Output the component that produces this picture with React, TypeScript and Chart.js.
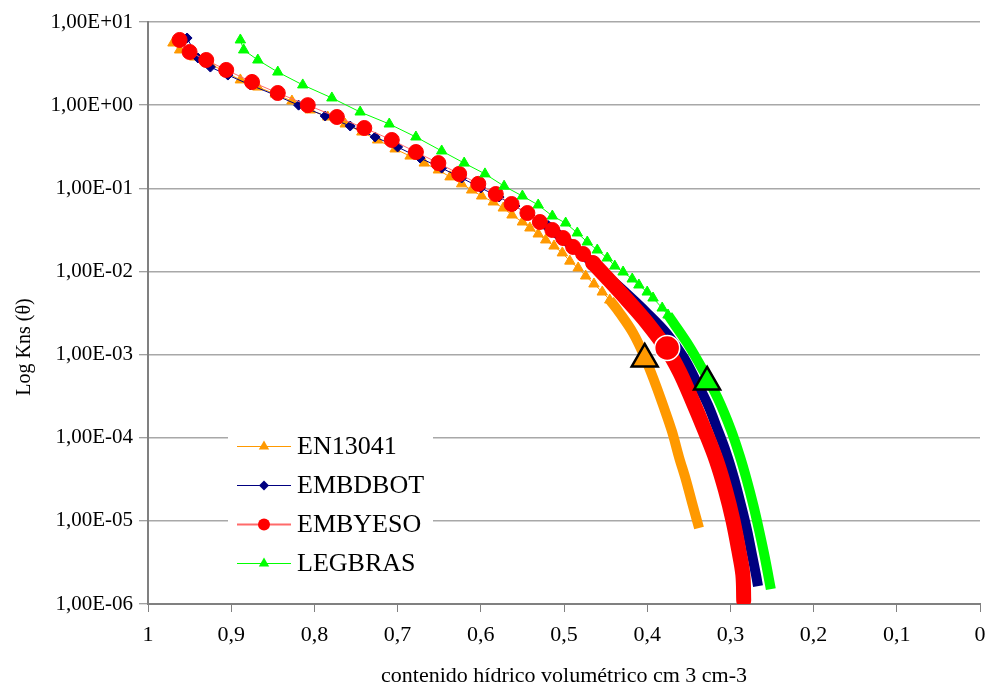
import React, { useEffect, useRef } from 'react';
import { Chart, registerables } from 'chart.js';

Chart.register(...registerables);

// ---- labels ----
const seriesNames = ['EN13041', 'EMBDBOT', 'EMBYESO', 'LEGBRAS'];
const xTitle = 'contenido hídrico volumétrico cm 3 cm-3';
const yTitle = 'Log Kns (θ)';
const xTickLabels = ['0', '0,1', '0,2', '0,3', '0,4', '0,5', '0,6', '0,7', '0,8', '0,9', '1'];
const yTickValues = [1e-6, 1e-5, 1e-4, 1e-3, 1e-2, 1e-1, 1, 10];
const yTickLabels = ['1,00E-06', '1,00E-05', '1,00E-04', '1,00E-03', '1,00E-02', '1,00E-01', '1,00E+00', '1,00E+01'];

// ---- EN13041 ----
const enTheta = [0.970, 0.962, 0.944, 0.925, 0.907, 0.889, 0.868, 0.847, 0.827, 0.805, 0.784, 0.763, 0.743, 0.724, 0.703, 0.685, 0.668, 0.651, 0.637, 0.623, 0.611, 0.599, 0.585, 0.573, 0.5625, 0.550, 0.541, 0.531, 0.522, 0.512, 0.502, 0.493, 0.483, 0.474, 0.464, 0.454, 0.445];
const enK = [5.59, 4.61, 3.79, 3.13, 2.50, 2.01, 1.65, 1.36, 1.12, 0.875, 0.720, 0.593, 0.475, 0.381, 0.297, 0.244, 0.201, 0.166, 0.137, 0.113, 0.0953, 0.0807, 0.0684, 0.0579, 0.0477, 0.0393, 0.0333, 0.0282, 0.0239, 0.0202, 0.0167, 0.0133, 0.0110, 0.00881, 0.00706, 0.00565, 0.00453];
const enDenseTheta = [0.445, 0.433, 0.417, 0.403, 0.3906, 0.3798, 0.370, 0.3618, 0.3534, 0.346, 0.3377];
const enDenseK = [0.00453, 0.00316, 0.00182, 0.000935, 0.000455, 0.000228, 0.000117, 5.86e-5, 3.10e-5, 1.64e-5, 8.2e-6];

// ---- EMBDBOT ----
const ebTheta = [0.953, 0.940, 0.925, 0.904, 0.877, 0.847, 0.819, 0.787, 0.757, 0.727, 0.700, 0.673, 0.647, 0.623, 0.600, 0.578, 0.559, 0.541, 0.523];
const ebK = [6.42, 3.69, 2.87, 2.30, 1.75, 1.32, 1.00, 0.740, 0.561, 0.414, 0.314, 0.231, 0.175, 0.133, 0.101, 0.0785, 0.0612, 0.0477, 0.0372];
const ebDenseTheta = [0.523, 0.4988, 0.4724, 0.4483, 0.4255, 0.4014, 0.3762, 0.3558, 0.3413, 0.3269, 0.3161, 0.3053, 0.2957, 0.2873, 0.2800, 0.2740, 0.2692, 0.2668];
const ebDenseK = [0.0372, 0.0239, 0.0145, 0.00881, 0.00550, 0.00325, 0.00177, 0.000910, 0.000481, 0.000247, 0.000131, 6.73e-5, 3.27e-5, 1.55e-5, 7.76e-6, 3.89e-6, 2.23e-6, 1.64e-6];

// ---- EMBYESO ----
const eyTheta = [0.962, 0.950, 0.930, 0.906, 0.875, 0.844, 0.808, 0.773, 0.740, 0.707, 0.678, 0.651, 0.626, 0.603, 0.582, 0.563, 0.544, 0.529, 0.514, 0.501, 0.489, 0.477, 0.465];
const eyK = [6.08, 4.36, 3.49, 2.65, 1.90, 1.40, 1.00, 0.720, 0.531, 0.381, 0.273, 0.201, 0.149, 0.113, 0.0853, 0.0647, 0.0504, 0.0393, 0.0315, 0.0252, 0.0197, 0.0162, 0.0126];
const eyDenseTheta = [0.465, 0.4459, 0.424, 0.400, 0.376, 0.361, 0.346, 0.331, 0.317, 0.306, 0.297, 0.290, 0.285, 0.284];
const eyDenseK = [0.0126, 0.00788, 0.00453, 0.00240, 0.00114, 0.000617, 0.000284, 0.000124, 5.40e-5, 2.35e-5, 1.02e-5, 4.46e-6, 2.23e-6, 1.1e-6];

// ---- LEGBRAS ----
const lgTheta = [0.889, 0.885, 0.868, 0.844, 0.814, 0.779, 0.745, 0.710, 0.678, 0.647, 0.620, 0.595, 0.572, 0.550, 0.531, 0.514, 0.498, 0.484, 0.472, 0.460, 0.448, 0.439, 0.429, 0.418, 0.410, 0.400, 0.393, 0.382, 0.375];
const lgK = [6.08, 4.61, 3.49, 2.50, 1.75, 1.22, 0.827, 0.593, 0.414, 0.281, 0.201, 0.149, 0.106, 0.0807, 0.0630, 0.0464, 0.0382, 0.0290, 0.0226, 0.0181, 0.0145, 0.0116, 0.00984, 0.00811, 0.00687, 0.00565, 0.00479, 0.00363, 0.00299];
const lgDenseTheta = [0.375, 0.352, 0.333, 0.3154, 0.2993, 0.2891, 0.2803, 0.2725, 0.2656, 0.2587, 0.2514];
const lgDenseK = [0.00299, 0.00138, 0.000652, 0.000301, 0.000124, 6.19e-5, 3.10e-5, 1.55e-5, 7.76e-6, 3.67e-6, 1.51e-6];

// ---- highlighted points (EN13041, EMBYESO, LEGBRAS) ----
const hlTheta = [0.403, 0.376, 0.328];
const hlK = [0.000885, 0.00120, 0.000468];

const pts = (xs: number[], ys: number[]) => xs.map((x, i) => ({ x, y: ys[i] }));

const ORANGE = '#FF9900';
const NAVY = '#000080';
const RED = '#FF0000';
const RED_LINE = '#FF6A6A';
const GREEN = '#00FF00';
const FONT = "'Liberation Serif', 'Times New Roman', serif";

function drawMarker(ctx: CanvasRenderingContext2D, style: string, x: number, y: number, r: number, fill: string) {
  ctx.beginPath();
  if (style === 'circle') {
    ctx.arc(x, y, r, 0, Math.PI * 2);
  } else if (style === 'triangle') {
    ctx.moveTo(x, y - r);
    ctx.lineTo(x + r * Math.sin((2 * Math.PI) / 3), y + r / 2);
    ctx.lineTo(x - r * Math.sin((2 * Math.PI) / 3), y + r / 2);
    ctx.closePath();
  } else {
    ctx.moveTo(x, y - r);
    ctx.lineTo(x + r, y);
    ctx.lineTo(x, y + r);
    ctx.lineTo(x - r, y);
    ctx.closePath();
  }
  ctx.fillStyle = fill;
  ctx.fill();
}

const legendPlugin = {
  id: 'customLegend',
  afterDatasetsDraw(chart: any) {
    const ctx: CanvasRenderingContext2D = chart.ctx;
    const ca = chart.chartArea;
    const boxX = ca.left + 80;
    const boxY = ca.top + 403;
    ctx.save();
    ctx.fillStyle = '#ffffff';
    ctx.fillRect(boxX, boxY, 205, 160);
    const lineCols = [ORANGE, NAVY, RED_LINE, GREEN];
    const fills = [ORANGE, NAVY, RED, GREEN];
    const styles = ['triangle', 'rectRot', 'circle', 'triangle'];
    const radii = [6, 5, 6, 6];
    seriesNames.forEach((name, i) => {
      const y = ca.top + 424 + i * 39;
      const x0 = ca.left + 89;
      const x1 = ca.left + 143;
      ctx.strokeStyle = lineCols[i];
      ctx.lineWidth = i === 2 ? 2 : 1;
      ctx.beginPath();
      ctx.moveTo(x0, y + 0.5);
      ctx.lineTo(x1, y + 0.5);
      ctx.stroke();
      drawMarker(ctx, styles[i], (x0 + x1) / 2, y + 0.5, radii[i], fills[i]);
      ctx.fillStyle = '#000';
      ctx.font = `26px ${FONT}`;
      ctx.textBaseline = 'middle';
      ctx.textAlign = 'left';
      ctx.fillText(name, ca.left + 149, y + 1);
    });
    ctx.restore();
  },
};

const yTitlePlugin = {
  id: 'yTitle',
  afterDraw(chart: any) {
    const ctx: CanvasRenderingContext2D = chart.ctx;
    ctx.save();
    ctx.translate(25, 347);
    ctx.rotate(-Math.PI / 2);
    ctx.fillStyle = '#000';
    ctx.font = `20px ${FONT}`;
    ctx.textAlign = 'center';
    ctx.textBaseline = 'middle';
    ctx.fillText(yTitle, 0, 0);
    ctx.restore();
  },
};

export default function App() {
  const canvasRef = useRef<HTMLCanvasElement | null>(null);

  useEffect(() => {
    if (!canvasRef.current) return;
    const markerDs = (label: string, data: any[], color: string, lineColor: string, style: string, r: number, order: number) => ({
      label,
      data,
      showLine: true,
      borderColor: lineColor,
      borderWidth: 1,
      backgroundColor: color,
      pointStyle: style,
      pointRadius: r,
      pointHoverRadius: r,
      pointBackgroundColor: color,
      pointBorderColor: color,
      pointBorderWidth: 1,
      tension: 0,
      order,
    });
    const denseDs = (label: string, data: any[], color: string, width: number, cap: string, order: number) => ({
      label,
      data,
      showLine: true,
      borderColor: color,
      borderWidth: width,
      borderCapStyle: cap,
      borderJoinStyle: 'round',
      pointRadius: 0,
      pointHoverRadius: 0,
      tension: 0.35,
      order,
    });

    const chart = new Chart(canvasRef.current, {
      type: 'scatter',
      data: {
        datasets: [
          markerDs(seriesNames[0], pts(enTheta, enK), ORANGE, ORANGE, 'triangle', 6, 8),
          denseDs('en-dense', pts(enDenseTheta, enDenseK), ORANGE, 10, 'butt', 9),
          markerDs(seriesNames[1], pts(ebTheta, ebK), NAVY, NAVY, 'rectRot', 5, 6),
          denseDs('eb-dense', pts(ebDenseTheta, ebDenseK), NAVY, 10, 'butt', 7),
          markerDs(seriesNames[2], pts(eyTheta, eyK), RED, RED_LINE, 'circle', 7.5, 4),
          denseDs('ey-dense', pts(eyDenseTheta, eyDenseK), RED, 15, 'round', 5),
          markerDs(seriesNames[3], pts(lgTheta, lgK), GREEN, GREEN, 'triangle', 6, 2),
          denseDs('lg-dense', pts(lgDenseTheta, lgDenseK), GREEN, 10, 'butt', 3),
          {
            label: 'hl-en',
            data: [{ x: hlTheta[0], y: hlK[0] }],
            pointStyle: 'triangle',
            pointRadius: 15,
            pointBackgroundColor: ORANGE,
            pointBorderColor: '#000',
            pointBorderWidth: 2.5,
            order: 1,
          },
          {
            label: 'hl-ey',
            data: [{ x: hlTheta[1], y: hlK[1] }],
            pointStyle: 'circle',
            pointRadius: 12.5,
            pointBackgroundColor: RED,
            pointBorderColor: '#ffffff',
            pointBorderWidth: 1.5,
            order: 1,
          },
          {
            label: 'hl-lg',
            data: [{ x: hlTheta[2], y: hlK[2] }],
            pointStyle: 'triangle',
            pointRadius: 15,
            pointBackgroundColor: GREEN,
            pointBorderColor: '#000',
            pointBorderWidth: 2.5,
            order: 0,
          },
        ] as any,
      },
      options: {
        animation: false,
        responsive: false,
        devicePixelRatio: 1,
        events: [],
        layout: { autoPadding: false, padding: { left: 0, right: 6, top: 22, bottom: 0 } },
        plugins: {
          legend: { display: false },
          tooltip: { enabled: false },
          title: { display: false },
        },
        scales: {
          x: {
            type: 'linear',
            reverse: true,
            min: 0,
            max: 1,
            afterFit: (s: any) => {
              s.height = 85;
              s.paddingLeft = 0;
              s.paddingRight = 0;
            },
            ticks: {
              stepSize: 0.1,
              autoSkip: false,
              maxRotation: 0,
              color: '#000',
              padding: 10,
              font: { family: FONT, size: 22 },
              callback: (v: any) => xTickLabels[Math.round(Number(v) * 10)],
            },
            grid: {
              drawOnChartArea: false,
              drawTicks: true,
              tickLength: 8,
              tickColor: '#808080',
              tickWidth: 1,
            },
            border: { display: true, color: '#808080', width: 2 },
            title: {
              display: true,
              text: xTitle,
              color: '#000',
              font: { family: FONT, size: 22 },
              padding: 0,
            },
          },
          y: {
            type: 'logarithmic',
            min: 1e-6,
            max: 10,
            afterBuildTicks: (s: any) => {
              s.ticks = yTickValues.map((v) => ({ value: v }));
            },
            afterFit: (s: any) => {
              s.width = 148;
              s.paddingTop = 0;
              s.paddingBottom = 0;
            },
            ticks: {
              autoSkip: false,
              color: '#000',
              padding: 6,
              font: { family: FONT, size: 21 },
              callback: (_v: any, i: number) => yTickLabels[i],
            },
            grid: {
              color: '#a8a8a8',
              lineWidth: 1.5,
              tickLength: 9,
              tickColor: '#808080',
              tickWidth: 1,
            },
            border: { display: true, color: '#808080', width: 2 },
          },
        },
      } as any,
      plugins: [legendPlugin, yTitlePlugin],
    });
    return () => chart.destroy();
  }, []);

  return (
    <div style={{ position: 'absolute', left: 0, top: 0, width: 986, height: 689, background: '#fff' }}>
      <canvas ref={canvasRef} width={986} height={689} style={{ width: 986, height: 689 }} />
    </div>
  );
}
